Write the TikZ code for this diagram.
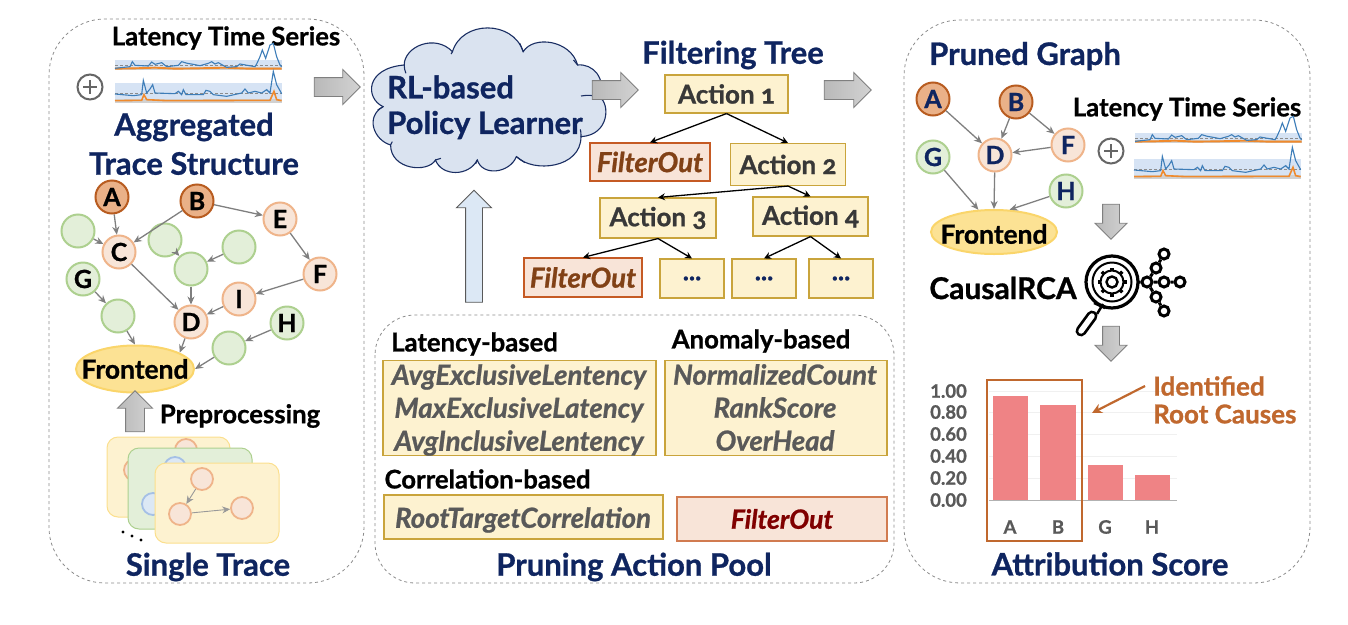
\documentclass[tikz,border=0pt]{standalone}
\usepackage{fontspec}
\setmainfont{Lato}[BoldFeatures={FakeBold=0.9},BoldItalicFeatures={FakeBold=0.9}]
\usetikzlibrary{shapes.geometric,shapes.arrows,arrows.meta,calc}
\definecolor{navy}{HTML}{0F2560}
\definecolor{rootF}{HTML}{EAB188}\definecolor{rootD}{HTML}{B85C20}
\definecolor{orgF}{HTML}{F8E5D8}\definecolor{orgD}{HTML}{EFB48A}
\definecolor{grnF}{HTML}{E3EFD9}\definecolor{grnD}{HTML}{ADD08F}
\definecolor{bluF}{HTML}{DCE8F5}\definecolor{bluD}{HTML}{A5C0E6}
\definecolor{ylwF}{HTML}{FDF2D0}\definecolor{ylwD}{HTML}{C9A43C}
\definecolor{filF}{HTML}{F8E4D8}\definecolor{filD}{HTML}{C55A24}
\definecolor{rust}{HTML}{C0682E}
\definecolor{feF}{HTML}{FCE294}\definecolor{feD}{HTML}{FAD56A}
\definecolor{cardD}{HTML}{FBDF8D}
\definecolor{barC}{HTML}{EF8385}
\definecolor{cloudF}{HTML}{DAE3F0}
\definecolor{edgeC}{HTML}{7F7F7F}
\definecolor{tsblue}{HTML}{3D7DB8}\definecolor{tsorg}{HTML}{F08A2C}
\tikzset{
 x=1pt,y=-1pt,
 panel/.style={draw=gray!90,dashed,line width=.8pt,rounded corners=56pt},
 svc/.style={circle,minimum size=33pt,inner sep=0pt,line width=2pt,font=\fontsize{25}{25}\selectfont\bfseries},
 root/.style={svc,fill=rootF,draw=rootD},
 org/.style={svc,fill=orgF,draw=orgD},
 grn/.style={svc,fill=grnF,draw=grnD},
 smallc/.style={circle,minimum size=22pt,inner sep=0pt,line width=1.8pt},
 edge/.style={draw=edgeC,line width=1.3pt,-{Stealth[length=8pt,width=7pt]}},
 tedge/.style={draw=black,line width=1.3pt,-{Stealth[length=7pt,width=7pt]}},
 fe/.style={ellipse,fill=feF,draw=feD,line width=2pt,inner sep=0pt},
 fetext/.style={inner sep=0pt,font=\fontsize{26.4}{26.4}\selectfont\bfseries},
 card/.style={rounded corners=11pt,line width=1pt},
 gba/.style={shape=single arrow,single arrow head extend=8pt,inner sep=9pt,minimum width=34pt,single arrow head indent=0pt,draw=edgeC,line width=.9pt,left color=gray!55,right color=gray!35},
 gbas/.style={gba,inner sep=8pt,single arrow head extend=7.5pt,minimum width=31pt},
 act/.style={draw=ylwD,fill=ylwF,line width=1.1pt,inner sep=0pt,text=black!78,font=\fontsize{26}{26}\selectfont\bfseries},
 flt/.style={draw=filD,fill=filF,line width=1.1pt,inner sep=0pt,font=\fontsize{27.5}{27.5}\selectfont\bfseries\itshape},
 ttl/.style={text=navy,font=\fontsize{31}{31}\selectfont\bfseries,inner sep=0pt},
 lbl/.style={text=black,font=\fontsize{25.7}{25.7}\selectfont\bfseries,inner sep=0pt},
 pool/.style={draw=ylwD,fill=ylwF,line width=1.1pt,inner sep=0pt},
 pooltext/.style={inner sep=0pt,text=black!65,align=center,font=\fontsize{27.6}{33}\selectfont\bfseries\itshape},
 tk/.style={text=black!65,font=\fontsize{18.5}{18.5}\selectfont\bfseries,inner sep=0pt},
 net/.style={circle,draw=black,fill=white,line width=3pt,minimum size=10pt,inner sep=0pt},
 plusc/.style={circle,draw=black!60,line width=2pt,minimum size=25pt,inner sep=0pt},
}
\newcommand{\tstop}[2]{%
 \begin{scope}[shift={(#1,#2)},x=.3333pt,y=-.3333pt]
 \fill[bluD!45] (0,0) rectangle (500,30);
 \fill[black!18] (0,22) rectangle (500,30);
 \draw[black!45,densely dashed,line width=.4pt] (0,17)--(500,17);
 \draw[tsorg,line width=1.9pt] (0,26)--(60,25)--(120,23)--(180,26)--(250,25)--(330,23)--(400,26)--(500,26);
 \draw[tsblue,line width=1.1pt] (0,25)--(45,20)--(52,5)--(60,16)--(100,18)--(110,6)--(120,13)--(140,8)--(155,20)--(190,16)--(200,5)--(217,10)--(235,13)--(255,17)--(280,10)--(290,5)--(300,12)--(310,8)--(335,22)--(365,20)--(375,12)--(420,20)--(425,12)--(435,-10)--(442,-30)--(452,-5)--(465,-45)--(475,-50)--(485,-10)--(495,15)--(500,20);
 \end{scope}}
\newcommand{\tsbot}[2]{%
 \begin{scope}[shift={(#1,#2)},x=.3333pt,y=-.3333pt]
 \fill[bluD!45] (0,0) rectangle (500,60);
 \fill[black!18] (0,48) rectangle (500,60);
 \draw[black!45,densely dashed,line width=.4pt] (0,31)--(500,31);
 \draw[tsorg,line width=1.6pt] (0,53)--(80,52)--(87,35)--(95,50)--(155,53)--(465,52)--(477,25)--(485,50)--(500,53);
 \draw[tsblue,line width=1.1pt] (0,33)--(55,38)--(80,35)--(85,-8)--(95,30)--(105,18)--(113,5)--(120,30)--(180,32)--(190,25)--(200,35)--(205,20)--(213,35)--(265,35)--(273,22)--(285,25)--(295,35)--(335,40)--(380,30)--(390,18)--(400,30)--(420,25)--(440,30)--(455,20)--(465,30)--(475,-35)--(485,5)--(500,32);
 \end{scope}}
\newcommand{\onum}[1]{{\addfontfeatures{Numbers=OldStyle}#1}}
\begin{document}
\begin{tikzpicture}
\useasboundingbox (0,0) rectangle (1348,624);
% panels
\draw[panel] (49,19) rectangle (364,583);
\draw[panel,rounded corners=40pt] (375,315) rectangle (894,583);
\draw[panel] (904,20) rectangle (1310,583);
% left top
\node[lbl] (ltsL) at (226,38) {Latency Time Series};
\tstop{115}{60}\tsbot{115}{83}
\node[plusc] (plusL) at (90,87) {};
\draw[black!60,line width=2pt] (plusL.center) +(-7,0) -- +(7,0) (plusL.center) +(0,-7) -- +(0,7);
\node[ttl] (t1) at (194,127) {Aggregated};
\node[ttl] (t2) at (194,163.5) {Trace Structure};
\node[gba,minimum height=46pt] (ar1) at (332.5,87) {};
% left graph
\node[root] (A) at (112,197) {A};
\node[root] (B) at (197,201) {B};
\node[org] (E) at (280,219) {E};
\node[grn] (g1) at (78,231) {};
\node[org] (C) at (119,252) {C};
\node[grn] (g2) at (165,240) {};
\node[grn] (g3) at (239,247) {};
\node[grn] (g4) at (191,269) {};
\node[org] (F) at (320,274) {F};
\node[grn] (G) at (83,279) {G};
\node[org] (I) at (239,299) {I};
\node[grn] (g5) at (118,316) {};
\node[org] (D) at (191,322) {D};
\node[grn] (H) at (287,323) {H};
\node[grn] (g6) at (229,348) {};
\node[fe,minimum width=118pt,minimum height=47pt] (FE) at (135,369) {};
\node[fetext] (FEt) at (135,369) {Frontend};
\foreach \a/\b in {A/C,B/C,B/E,E/F,g1/C,g2/g4,g3/g4,C/D,g4/D,F/I,I/D,G/g5,H/g6} \draw[edge] (\a) -- (\b);
\draw[edge] (g5) -- (FE.north);
\draw[edge] (D) -- (FE.20);
\draw[edge] (g6) -- (FE.east);
\node[gba,minimum height=41pt,rotate=90] (ar2) at (135,416) {};
\node[lbl] (pp) at (240,416) {Preprocessing};
% cards
\draw[card,fill=ylwF,draw=cardD] (107,437) rectangle (230,517);
\node[smallc,fill=orgF,draw=orgD] (c1a) at (186,450) {};
\node[smallc,fill=orgF,draw=orgD] (c1b) at (135,470) {};
\draw[card,fill=grnF,draw=grnD] (128,448) rectangle (252,529);
\node[smallc,fill=bluF,draw=bluD] (c2a) at (175,468) {};
\node[smallc,fill=bluF,draw=bluD] (c2b) at (153,504) {};
\draw[card,fill=ylwF,draw=cardD] (155,463) rectangle (279,543);
\node[smallc,fill=orgF,draw=orgD] (c3a) at (202,479) {};
\node[smallc,fill=orgF,draw=orgD] (c3b) at (180,514) {};
\node[smallc,fill=orgF,draw=orgD] (c3c) at (242,508) {};
\draw[edge,draw=gray!80,line width=.9pt] (c3a) -- (c3b);
\draw[edge,draw=gray!80,line width=.9pt] (c3b) -- (c3c);
\foreach \px/\py in {123/532,132/536,141/540} \fill (\px,\py) circle (1.6);
\node[ttl] (t3) at (208,567) {Single Trace};
% cloud
\begin{scope}[shift={(360,10)},x=.34pt,y=-.3333pt,line width=1.1pt]
\draw[fill=cloudF,draw=navy!90!gray]
 (68,290) .. controls (15,265) and (15,175) .. (130,165)
 .. controls (130,110) and (220,70) .. (272,125)
 .. controls (300,30) and (450,30) .. (480,125)
 .. controls (510,75) and (620,90) .. (640,165)
 .. controls (685,160) and (725,205) .. (705,262)
 .. controls (735,280) and (735,375) .. (650,380)
 .. controls (650,475) and (510,490) .. (460,440)
 .. controls (440,490) and (360,500) .. (345,450)
 .. controls (320,500) and (240,500) .. (222,450)
 .. controls (200,490) and (90,480) .. (90,405)
 .. controls (40,390) and (15,320) .. (68,290) -- cycle;
\draw[draw=navy!90!gray] (130,165) .. controls (130,175) and (132,182) .. (135,190);
\draw[draw=navy!90!gray] (272,125) -- (268,132);
\draw[draw=navy!90!gray] (480,125) -- (470,100);
\draw[draw=navy!90!gray] (640,165) -- (628,150);
\draw[draw=navy!90!gray] (705,262) .. controls (690,255) and (665,255) .. (650,258);
\draw[draw=navy!90!gray] (650,380) .. controls (650,372) and (650,365) .. (648,358);
\draw[draw=navy!90!gray] (460,440) -- (485,458);
\draw[draw=navy!90!gray] (345,450) -- (340,462);
\draw[draw=navy!90!gray] (222,450) -- (238,445);
\draw[draw=navy!90!gray] (90,405) -- (95,395);
\draw[draw=navy!90!gray] (68,290) -- (52,300);
\end{scope}
\node[ttl,anchor=west] (rl1) at (387,87) {RL-based};
\node[ttl,anchor=west] (rl2) at (387,125) {Policy Learner};
\node[gba,minimum height=46pt] (ar3) at (610.5,90) {};
\node[gba,minimum height=47pt] (ar4) at (843,90) {};
\node[gba,minimum height=112pt,rotate=90,draw=black!65,left color=bluF,right color=bluF,inner sep=8pt,single arrow head extend=9pt] (ar5) at (474,250.5) {};
% tree
\node[ttl] (tt) at (733,55) {Filtering Tree};
\node[act,minimum width=123pt,minimum height=38pt] (a1) at (726.5,94) {Action \onum{1}};
\node[flt,minimum width=120pt,minimum height=38pt,text=rootD!70!black] (f1) at (650,162) {FilterOut};
\node[act,minimum width=115pt,minimum height=42pt] (a2) at (788,164.5) {Action \onum{2}};
\node[act,minimum width=116pt,minimum height=40pt] (a3) at (658,218) {Action \onum{3}};
\node[act,minimum width=115pt,minimum height=39pt] (a4) at (810.5,216.5) {Action \onum{4}};
\node[flt,minimum width=118pt,minimum height=39pt,text=rootD!70!black] (f2) at (583,277.5) {FilterOut};
\node[act,text=navy,minimum width=64pt,minimum height=39pt] (d1) at (692,278.5) {...};
\node[act,text=navy,minimum width=64pt,minimum height=39pt] (d2) at (764,278.5) {...};
\node[act,text=navy,minimum width=64pt,minimum height=39pt] (d3) at (841,278.5) {...};
\foreach \a/\b in {a1/f1,a1/a2,a2/a3,a2/a4,a3/f2,a3/d1,a4/d2,a4/d3} \draw[tedge] (\a.south) -- (\b.north);
% pool
\node[lbl] (p1) at (474.5,344) {Latency-based};
\node[lbl] (p2) at (761,341) {Anomaly-based};
\node[lbl] (p3) at (487.5,479) {Correlation-based};
\node[pool,minimum width=273pt,minimum height=95pt] (b1) at (519.5,408) {};
\node[pooltext] (b1t) at (519,410) {AvgExclusiveLentency\\MaxExclusiveLatency\\AvgInclusiveLentency};
\node[pool,minimum width=222pt,minimum height=95pt] (b2) at (776,408) {};
\node[pooltext] (b2t) at (775,407.5) {NormalizedCount\\RankScore\\OverHead};
\node[pool,minimum width=279pt,minimum height=44pt] (b3) at (523.5,517) {};
\node[pooltext] (b3t) at (523,520) {RootTargetCorrelation};
\node[flt,minimum width=210pt,minimum height=44pt,text=red!50!black,font=\fontsize{26.5}{26.5}\selectfont\bfseries\itshape,draw=filD!80] (b4) at (782,519) {FilterOut};
\node[ttl] (t4) at (634,567) {Pruning Action Pool};
% right
\node[ttl] (t5) at (1025,56) {Pruned Graph};
\node[root,text=navy] (rA) at (933,99) {A};
\node[root,text=navy] (rB) at (1016,102) {B};
\node[org,text=navy] (rD) at (995,155) {D};
\node[org,text=navy] (rF) at (1068,145) {F};
\node[grn,text=navy] (rG) at (933,157) {G};
\node[grn,text=navy] (rH) at (1066,191) {H};
\node[fe,minimum width=126pt,minimum height=44pt] (rFE) at (994,232) {};
\node[fetext] (rFEt) at (994,234) {Frontend};
\foreach \a/\b in {rA/rD,rB/rD,rB/rF,rF/rD} \draw[edge] (\a) -- (\b);
\draw[edge] (rD) -- (rFE.north);
\draw[edge] (rG) -- (rFE.125);
\draw[edge] (rH) -- (rFE.55);
\node[lbl] (ltsR) at (1187,109) {Latency Time Series};
\tstop{1135}{133}\tsbot{1134}{159}
\node[plusc] (plusR) at (1111,151) {};
\draw[black!60,line width=2pt] (plusR.center) +(-7,0) -- +(7,0) (plusR.center) +(0,-7) -- +(0,7);
\node[gbas,minimum height=35pt,rotate=-90] (ar6) at (1111,217.5) {};
\node[gbas,minimum height=35pt,rotate=-90] (ar7) at (1111,339.5) {};
\node[ttl,text=black,font=\fontsize{30}{30}\selectfont\bfseries] (crca) at (1003,288) {CausalRCA};
% icon
\coordinate (ic) at (1112,282);
\draw[black,line width=3.2pt] (ic) circle (26);
\draw[black,line width=2pt] (ic) circle (19.5);
\foreach \an in {0,45,...,315} \draw[black,line width=3.5pt] (ic) ++(\an:10) -- ++(\an:4.5);
\draw[black,fill=white,line width=2pt] (ic) circle (11.5);
\draw[black,line width=2.4pt] (ic) circle (5.5);
\draw[black,line width=2.5pt] (1103,304) -- (1097,314) (1094,303) -- (1105,308);
\draw[black,line width=11pt,line cap=round] (1092,316) -- (1081,331);
\draw[white,line width=5.5pt,line cap=round] (1092,316) -- (1081,331);
\node[net] (n0) at (1147,282) {};
\node[net] (n1) at (1164,282) {};
\node[net] (n2) at (1180,282) {};
\node[net] (n3) at (1156,268) {};
\node[net] (n4) at (1164,254) {};
\node[net] (n5) at (1156,297) {};
\node[net] (n6) at (1164,311) {};
\draw[line width=3pt] (1138,282) -- (n0) (n0) -- (n1) (n1) -- (n2) (n0) -- (n3) (n3) -- (n4) (n0) -- (n5) (n5) -- (n6);
% chart
\foreach \gy in {391,412,434,456,478} \draw[black!6,line width=1pt] (989,\gy) -- (1177,\gy);
\fill[barC] (993,396) rectangle (1028,500);
\fill[barC] (1040,405) rectangle (1076,500);
\fill[barC] (1088,465) rectangle (1123,500);
\fill[barC] (1135,475) rectangle (1170,500);
\draw[black!30,line width=1pt] (989,500) -- (1177,500);
\foreach \ly/\lt in {391/1.00,412/0.80,434/0.60,456/0.40,478/0.20,500/0.00} \node[tk,anchor=east] at (967,\ly) {\lt};
\foreach \lx/\lt in {1010/A,1058/B,1105/G,1152/H} \node[tk] at (\lx,527) {\lt};
\node[draw=rust,line width=1.5pt,minimum width=95pt,minimum height=161pt,inner sep=0pt] (rc) at (1034.5,460.5) {};
\node[text=rust,anchor=west,inner sep=0pt,font=\fontsize{26}{26}\selectfont\bfseries] (ir1) at (1153,386) {Identified};
\node[text=rust,anchor=west,inner sep=0pt,font=\fontsize{26}{26}\selectfont\bfseries] (ir2) at (1153,414) {Root Causes};
\coordinate (ira) at (1092,413);
\draw[rust,line width=2.2pt,-{Stealth[length=10pt,width=10pt]}] (ir1.west) ++(-8,0) -- (ira);
\node[ttl] (t6) at (1110,564) {Attribution Score};
\end{tikzpicture}
\end{document}
